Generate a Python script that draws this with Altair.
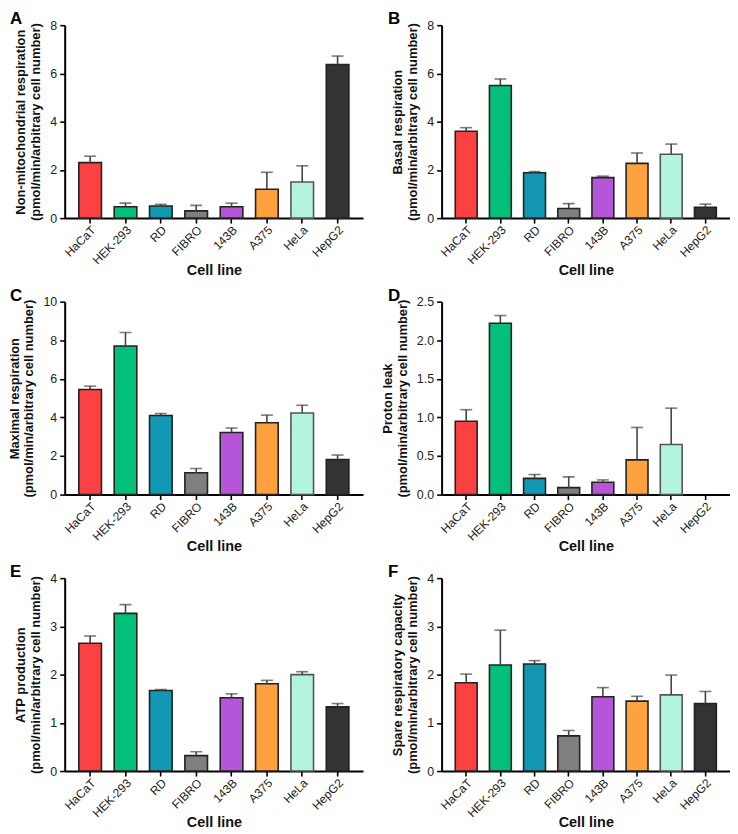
import altair as alt
import pandas as pd

cells = ["HaCaT", "HEK-293", "RD", "FIBRO", "143B", "A375", "HeLa", "HepG2"]
fill_colors = ["#FC4143", "#02BF79", "#1398B4", "#7F7F7F", "#B556D8", "#FFA13F", "#B3F5DC", "#333333"]
outline_colors = ["#222222", "#222222", "#222222", "#222222", "#222222", "#222222", "#555555", "#222222"]

nonmito_mean = [2.30, 0.47, 0.50, 0.30, 0.47, 1.20, 1.50, 6.37]
nonmito_err = [0.27, 0.15, 0.07, 0.23, 0.15, 0.70, 0.67, 0.35]
basal_mean = [3.60, 5.50, 1.88, 0.40, 1.68, 2.27, 2.65, 0.45]
basal_err = [0.15, 0.27, 0.05, 0.20, 0.06, 0.43, 0.42, 0.13]
maximal_mean = [5.45, 7.70, 4.10, 1.13, 3.22, 3.72, 4.23, 1.82]
maximal_err = [0.17, 0.70, 0.10, 0.22, 0.23, 0.40, 0.40, 0.23]
leak_mean = [0.95, 2.22, 0.21, 0.09, 0.16, 0.45, 0.65, 0.0]
leak_err = [0.15, 0.10, 0.05, 0.14, 0.03, 0.42, 0.47, 0.0]
atp_mean = [2.65, 3.27, 1.67, 0.32, 1.52, 1.81, 2.00, 1.33]
atp_err = [0.15, 0.18, 0.02, 0.08, 0.08, 0.07, 0.06, 0.07]
spare_mean = [1.83, 2.20, 2.22, 0.73, 1.54, 1.45, 1.58, 1.40]
spare_err = [0.18, 0.72, 0.07, 0.11, 0.19, 0.10, 0.41, 0.25]

ticks_8 = [0, 2, 4, 6, 8]
ticks_10 = [0, 2, 4, 6, 8, 10]
ticks_25 = [0.0, 0.5, 1.0, 1.5, 2.0, 2.5]
ticks_4 = [0, 1, 2, 3, 4]

unit = "(pmol/min/arbitrary cell number)"
FONT = "Liberation Sans"


def panel(letter, label, mean, err, ticks, fmt, w, letter_dx):
    df = pd.DataFrame({"cell": cells, "mean": mean, "err": err,
                       "fill": fill_colors, "outline": outline_colors})
    df["top"] = df["mean"] + df["err"]
    df = df[df["mean"] > 0]
    errdf = df[df["err"] > 0]
    xscale = alt.Scale(domain=cells, paddingInner=0.36, paddingOuter=0.4)
    xaxis = alt.Axis(title="Cell line", labelAngle=-45, labelAlign="right",
                     labelBaseline="top", titleFontSize=14.5, titlePadding=-3,
                     labelPadding=1, labelOverlap=False, labelFontSize=12)
    yscale = alt.Scale(domain=[ticks[0], ticks[-1]], nice=False, zero=True)
    yaxis = alt.Axis(title=[label, unit], values=ticks, format=fmt, tickCount=len(ticks),
                     titleFontSize=13, titlePadding=7, labelOverlap=False,
                     labelPadding=3, labelFontSize=12.5)
    xenc = alt.X("cell:N", sort=cells, scale=xscale, axis=xaxis)
    bars = alt.Chart(df).mark_bar(strokeWidth=1.6).encode(
        x=xenc,
        y=alt.Y("mean:Q", scale=yscale, axis=yaxis),
        color=alt.Color("fill:N", scale=None),
        stroke=alt.Stroke("outline:N", scale=None),
    )
    rule = alt.Chart(errdf).mark_rule(color="#444444", strokeWidth=1.6).encode(
        x=xenc, y=alt.Y("mean:Q", scale=yscale, axis=yaxis), y2="top:Q")
    cap = alt.Chart(errdf).mark_tick(color="#444444", thickness=1.6, size=12).encode(
        x=xenc, y=alt.Y("top:Q", scale=yscale, axis=yaxis))
    tag = alt.Chart(pd.DataFrame({"t": [letter]})).mark_text(
        font=FONT, fontSize=17, fontWeight="bold", align="left", baseline="alphabetic",
        color="black").encode(text="t:N", x=alt.value(letter_dx), y=alt.value(-1))
    return alt.layer(bars, rule, cap, tag).properties(width=w, height=194)


pA = panel("A", "Non-mitochondrial respiration", nonmito_mean, nonmito_err, ticks_8, "d", 300, -55)
pB = panel("B", "Basal respiration", basal_mean, basal_err, ticks_8, "d", 290, -54)
pC = panel("C", "Maximal respiration", maximal_mean, maximal_err, ticks_10, "d", 300, -55)
pD = panel("D", "Proton leak", leak_mean, leak_err, ticks_25, ".1f", 290, -54)
pE = panel("E", "ATP production", atp_mean, atp_err, ticks_4, "d", 300, -55)
pF = panel("F", "Spare respiratory capacity", spare_mean, spare_err, ticks_4, "d", 290, -54)

chart = alt.concat(
    pA, pB, pC, pD, pE, pF,
    columns=2,
    spacing=alt.RowColnumber(row=84, column=79),
    bounds="flush",
).properties(padding=0).configure_axis(
    grid=False, domainColor="black", domainWidth=2, tickColor="black", tickWidth=1.6,
    tickSize=5, labelFont=FONT, labelColor="#222222", labelOverlap=False,
    titleFont=FONT, titleFontWeight="bold", titleColor="#111111",
).configure_view(stroke=None)

chart.save("out.html", embed_options={"renderer": "svg", "actions": False})
